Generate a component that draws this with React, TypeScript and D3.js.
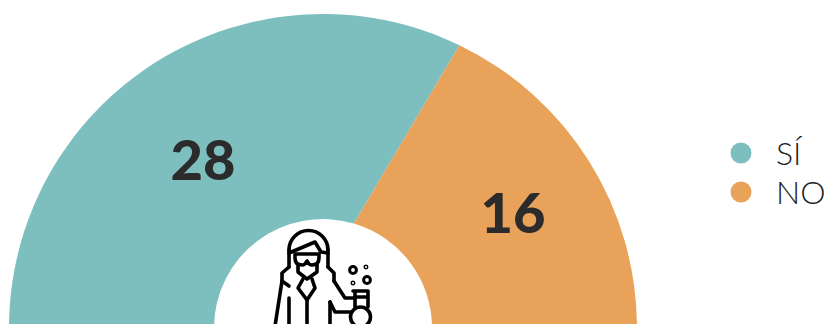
import React from "react";
import * as d3 from "d3";

const categories = ["SÍ", "NO"];
const seriesValues = [28, 16];
const colors = ["#7dbebe", "#e9a259"];

const W = 828, H = 324;
const cx = 323, cy = 328, R = 314, r = 109;

// The dividing edge in the reference is not quite radial
const OUTER_SKEW = (1.2 * Math.PI) / 180;
const INNER_SKEW = (-8.1 * Math.PI) / 180;

const pie = d3.pie<number>().sort(null).startAngle(-Math.PI / 2).endAngle(Math.PI / 2);
const arcs = pie(seriesValues);
const toCanvas = (a: number) => a - Math.PI / 2;

function slicePath(a0o: number, a1o: number, a0i: number, a1i: number) {
  const p = d3.path();
  p.arc(cx, cy, R, toCanvas(a0o), toCanvas(a1o), false);
  p.arc(cx, cy, r, toCanvas(a1i), toCanvas(a0i), true);
  p.closePath();
  return p.toString();
}

const line = d3.line();
const iconLines: [number, number][][] = [
  [[289, 267], [289, 250]],
  [[328, 267], [328, 250]],
  [[289, 253], [315, 242], [321, 252], [328, 253]],
  [[298, 265], [298, 272], [307, 279], [317, 272], [317, 265]],
  [[289, 267], [282, 273], [282, 281], [289, 286]],
  [[328, 267], [334, 273], [334, 281]],
  [[282, 281], [275, 326]],
  [[289, 298], [289, 326]],
  [[307, 300], [307, 326]],
  [[303, 279], [298, 288], [307, 300], [315, 288], [312, 279]],
  [[334, 281], [345, 298], [355, 298]],
  [[330, 302], [330, 326]],
  [[330, 302], [335, 312], [350, 312]],
];

const icon = (
  <g fill="none" stroke="#000" strokeWidth={3.6} strokeLinejoin="round" strokeLinecap="round">
    <path d="M289 250 A19.5 19.5 0 0 1 328 250" />
    {iconLines.map((l, i) => <path key={i} d={line(l) ?? ""} />)}
    <path d="M295 254 H319 V258 Q319 265 312 265 Q309 265 307 261 Q305 265 302 265 Q295 265 295 258 Z" />
    <path d="M353 291 H368 M355 291 V307 M368 291 V307 M355 297 H368" />
    <circle cx={360.5} cy={317} r={10} />
    <circle cx={353} cy={270} r={3.4} strokeWidth={3} />
    <circle cx={367} cy={280} r={3.4} strokeWidth={3} />
    <circle cx={366} cy={267} r={0.7} />
    <circle cx={353} cy={283} r={0.7} />
  </g>
);

const numberPos: [number, number][] = [[203, 180], [513, 233]];
const legendY = [153, 192];

export default function App() {
  return (
    <svg width={W} height={H} viewBox={`0 0 ${W} ${H}`} style={{ position: "absolute", left: 0, top: 0, display: "block", background: "#fff" }}>
      <path d={slicePath(arcs[0].startAngle, arcs[0].endAngle + OUTER_SKEW, arcs[0].startAngle, arcs[0].endAngle + INNER_SKEW)} fill={colors[0]} />
      <path d={slicePath(arcs[1].startAngle + OUTER_SKEW, arcs[1].endAngle, arcs[1].startAngle + INNER_SKEW, arcs[1].endAngle)} fill={colors[1]} />
      {seriesValues.map((v, i) => (
        <text key={i} x={numberPos[i][0]} y={numberPos[i][1]} textAnchor="middle" fontFamily="Lato" fontWeight={900} fontSize={56} fill="#2b2b2b">{v}</text>
      ))}
      {icon}
      {categories.map((c, i) => (
        <g key={c}>
          <circle cx={741} cy={legendY[i]} r={10.5} fill={colors[i]} />
          <text x={776} y={legendY[i] + 12} fontFamily="Lato" fontWeight={300} fontSize={32} fill="#222">{c}</text>
        </g>
      ))}
    </svg>
  );
}
